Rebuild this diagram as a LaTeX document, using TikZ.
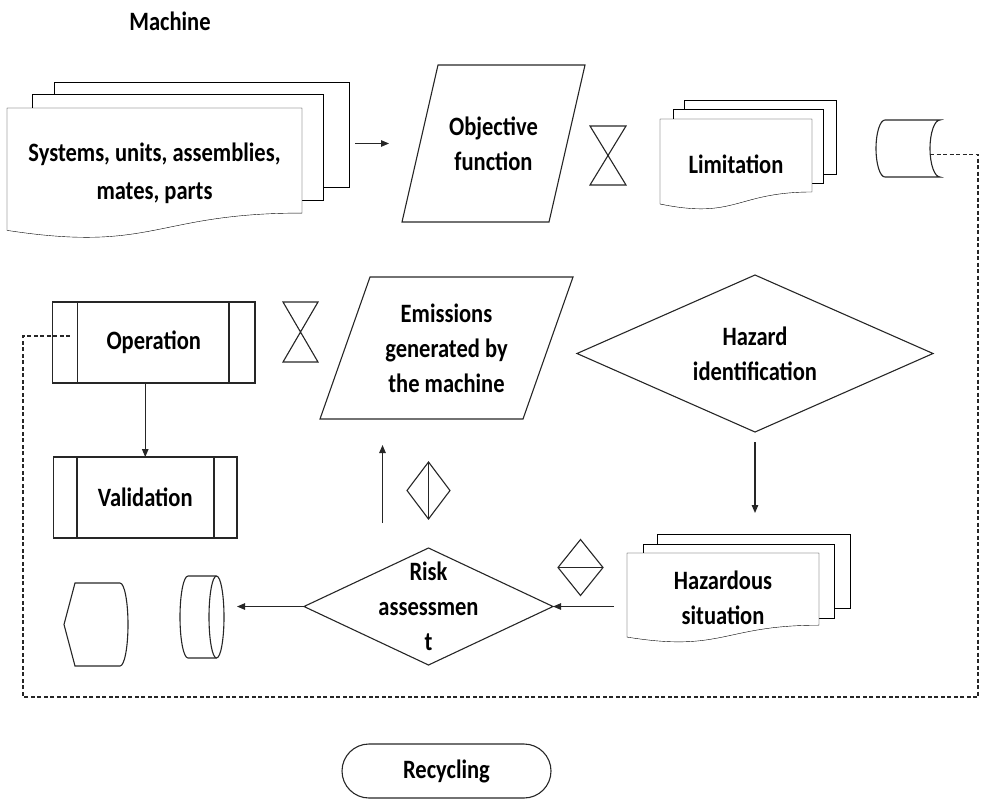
\documentclass[tikz,border=0pt]{standalone}
\usepackage{fontspec}
\setmainfont{Carlito}[FakeStretch=0.85]
\usetikzlibrary{arrows.meta}
\usetikzlibrary{calc}
\usetikzlibrary{backgrounds}
\newcommand{\docoutline}[1]{%
  \draw[fill=white] (#1.north west) -- (#1.north east) -- ($(#1.north east)!0.802!(#1.south east)$)
    .. controls ($(#1.north)!0.802!(#1.south)$) and ($(#1.north)!1.107!(#1.south)$) .. ($(#1.north west)!0.934!(#1.south west)$) -- cycle;}
\newcommand{\slantoutline}[2]{\draw ([xshift=#2]#1.north west) -- (#1.north east) -- ([xshift=-#2]#1.south east) -- (#1.south west) -- cycle;}
\newcommand{\collatemark}[1]{\draw (#1.north west) -- (#1.north east) -- (#1.south west) -- (#1.south east) -- cycle;}
\newcommand{\rhomboutline}[1]{\draw (#1.west) -- (#1.north) -- (#1.east) -- (#1.south) -- cycle;}
\newcommand{\sidebarlines}[3]{\draw ([xshift=#2]#1.north west) -- ([xshift=#2]#1.south west) ([xshift=-#3]#1.north east) -- ([xshift=-#3]#1.south east);}
\newcommand{\storedoutline}[1]{\draw ([xshift=9pt]#1.north west) -- (#1.north east) arc[start angle=90,end angle=270,x radius=10pt,y radius=28.5pt] -- ([xshift=9pt]#1.south west) arc[start angle=270,end angle=90,x radius=9pt,y radius=28.5pt] -- cycle;}
\newcommand{\diskoutline}[1]{\draw ([xshift=8pt]#1.north west) -- ([xshift=-7.5pt]#1.north east) arc[start angle=90,end angle=-90,x radius=7.5pt,y radius=41pt] -- ([xshift=8pt]#1.south west) arc[start angle=270,end angle=90,x radius=8pt,y radius=41pt] -- cycle;
  \draw ([xshift=-7.5pt]#1.north east) arc[start angle=90,end angle=270,x radius=7.5pt,y radius=41pt];}
\newcommand{\displayoutline}[1]{\draw (#1.west) -- ([xshift=11pt]#1.north west) -- ([xshift=-8pt]#1.north east) arc[start angle=90,end angle=-90,x radius=8pt,y radius=41.5pt] -- ([xshift=11pt]#1.south west) -- cycle;}
\begin{document}
\begin{tikzpicture}[x=1pt,y=-1pt,line width=1.1pt,color=black!85,>={Triangle[length=8pt,width=6.5pt]},
    every node/.style={inner sep=0pt,outer sep=0pt,align=center,text=black,font=\fontsize{26.5pt}{35pt}\selectfont\bfseries},
    sheet/.style={draw,fill=white},
    arrowline/.style={->},
    backlink/.style={dash pattern=on 4pt off 2.5pt}]
      \useasboundingbox (0,0) rectangle (981,801);

      \node (machine) at (170,21) {Machine};

      \node[minimum width=295pt,minimum height=131pt,font=\fontsize{26.5pt}{38pt}\selectfont\bfseries] (sys) at (154.5,173.5) {Systems, units, assemblies,\\mates, parts};
      \begin{scope}[on background layer]
          \node[sheet,minimum width=295pt,minimum height=105pt] (sysC) at (201.5,134.5) {};
          \node[sheet,minimum width=291pt,minimum height=106pt] (sysB) at (177.5,147) {};
          \docoutline{sys}
      \end{scope}

      \node[minimum width=183pt,minimum height=157pt] (obj) at (493.5,143.5) {Objective\\function};
      \slantoutline{obj}{36pt}
      \node[minimum width=36pt,minimum height=59pt] (collA) at (608,155.5) {};
      \collatemark{collA}

      \node[minimum width=152pt,minimum height=91pt] (lim) at (736,164.5) {Limitation};
      \begin{scope}[on background layer]
          \node[sheet,minimum width=152pt,minimum height=74pt] (limC) at (760,137) {};
          \node[sheet,minimum width=150pt,minimum height=74pt] (limB) at (748,146) {};
          \docoutline{lim}
      \end{scope}

      \node[minimum width=64pt,minimum height=57pt] (stor) at (908,148.5) {};
      \storedoutline{stor}

      \node[draw,minimum width=202.5pt,minimum height=81pt] (op) at (153.75,342.5) {Operation};
      \sidebarlines{op}{25pt}{26pt}
      \node[draw,minimum width=183.5pt,minimum height=81pt] (val) at (145.25,497.5) {Validation};
      \sidebarlines{val}{23.5pt}{23pt}
      \node[minimum width=35pt,minimum height=60pt] (collB) at (300.5,332) {};
      \collatemark{collB}

      \node[minimum width=253pt,minimum height=142pt] (emis) at (446.5,348) {Emissions\\generated by\\the machine};
      \slantoutline{emis}{50pt}
      \node[minimum width=356pt,minimum height=157pt] (haz) at (755,353.5) {Hazard\\identification};
      \rhomboutline{haz}

      \node[minimum width=43pt,minimum height=57pt] (sortV) at (428.5,490.5) {};
      \rhomboutline{sortV}
      \draw (sortV.north) -- (sortV.south);
      \node[minimum width=45pt,minimum height=56pt] (sortH) at (580.5,567.5) {};
      \rhomboutline{sortH}
      \draw (sortH.west) -- (sortH.east);

      \node[minimum width=192pt,minimum height=90pt] (hsit) at (723,598) {Hazardous\\situation};
      \begin{scope}[on background layer]
          \node[sheet,minimum width=193pt,minimum height=74pt] (hsitC) at (753.5,571) {};
          \node[sheet,minimum width=191pt,minimum height=74pt] (hsitB) at (738.5,581) {};
          \docoutline{hsit}
      \end{scope}

      \node[minimum width=249pt,minimum height=117pt] (risk) at (428.5,606.5) {Risk\\assessmen\\t};
      \rhomboutline{risk}
      \node[minimum width=44pt,minimum height=82pt] (disk) at (202,617) {};
      \diskoutline{disk}
      \node[minimum width=64pt,minimum height=83pt] (disp) at (96,624.5) {};
      \displayoutline{disp}

      \node[draw,rounded corners=27pt,minimum width=209pt,minimum height=54pt] (recyc) at (446.5,771) {Recycling};

      \coordinate (upfoot) at ([xshift=-46pt]risk.north);
      \coordinate (storOut) at ([xshift=-10pt,yshift=-6pt]stor.east);
      \coordinate (loopSE) at (978,697);
      \coordinate (loopSW) at (23,697);
      \coordinate (opIn) at ([xshift=18.5pt,yshift=6.5pt]op.west);

      \draw[arrowline,shorten <=6pt,shorten >=13pt] (sysC.east |- obj.west) -- (obj.west);
      \draw[arrowline] (op.south -| val.north) -- (val.north);
      \draw[arrowline,shorten <=25pt,shorten >=26pt] (upfoot) -- (upfoot |- emis.south);
      \draw[arrowline,shorten <=10pt,shorten >=21pt] (haz.south) -- (haz.south |- hsitC.north);
      \draw[arrowline,shorten <=13pt] (hsit.west |- risk.east) -- (risk.east);
      \draw[arrowline,shorten >=13pt] (risk.west) -- (risk.west -| disk.east);
      \draw[backlink] (storOut) -| (loopSE) -- (loopSW) |- (opIn);
\end{tikzpicture}
\end{document}
